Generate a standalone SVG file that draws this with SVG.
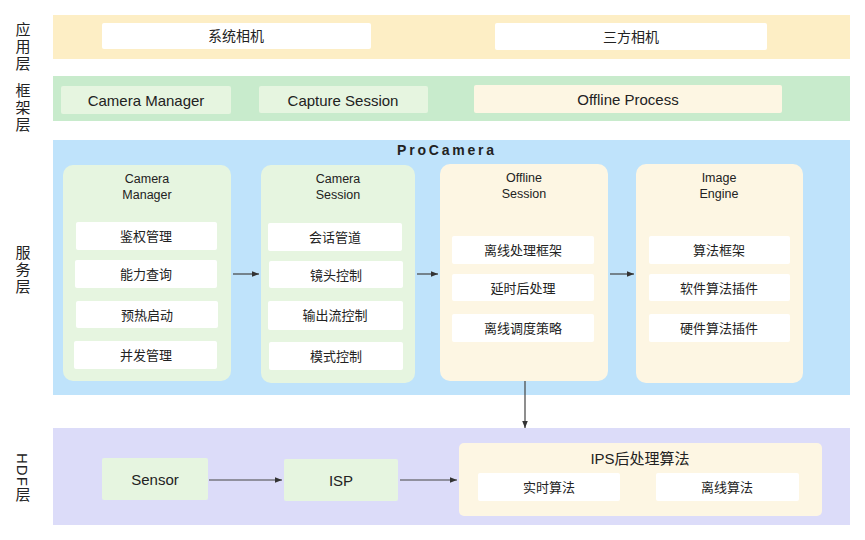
<svg xmlns="http://www.w3.org/2000/svg" width="865" height="540" viewBox="0 0 865 540">
<defs>
<marker id="ah" viewBox="0 0 10 10" refX="10" refY="5" markerWidth="7" markerHeight="7" orient="auto" markerUnits="userSpaceOnUse"><path d="M0,1 L10,5 L0,9 z" fill="#333"/></marker>
<style>
text{font-family:"Liberation Sans","Noto Sans CJK SC",Arial,sans-serif;fill:#222;text-anchor:middle;dominant-baseline:central}
.lbl{font-size:15px;writing-mode:vertical-rl;letter-spacing:2px}
.white{fill:#fff}
.green{fill:#e6f5e0}
.cream{fill:#fdf6e3}
.t14{font-size:14px}
.t15{font-size:15px}
.t12{font-size:12.5px}
.t13{font-size:13px}
.conn{stroke:#444;stroke-width:1.2;fill:none;marker-end:url(#ah)}
</style>
</defs>
<rect width="865" height="540" fill="#fff"/>
<!-- layer bands -->
<g id="app-layer">
<rect x="53" y="15" width="797" height="44" fill="#fdeec5"/>
<text class="lbl" x="22" y="22" style="text-anchor:start">应用层</text>
</g>
<g id="framework-layer">
<rect x="53" y="76" width="797" height="45" fill="#c8ebcc"/>
<text class="lbl" x="22" y="83" style="text-anchor:start">框架层</text>
</g>
<g id="service-layer">
<rect x="53" y="140" width="797" height="255" fill="#bfe3fb"/>
<text class="lbl" x="22" y="245" style="text-anchor:start">服务层</text>
<text x="447" y="150" style="font-size:14px;font-weight:bold;letter-spacing:2.8px">ProCamera</text>
</g>
<g id="hdf-layer">
<rect x="53" y="428" width="797" height="97" fill="#dcdcf9"/>
<text class="lbl" x="22" y="453" style="text-anchor:start;letter-spacing:1px">HDF层</text>
</g>

<!-- app nodes -->
<g id="sys-camera"><rect class="white" x="102" y="23" width="269" height="26" rx="2"/><text class="t14" x="236" y="36">系统相机</text></g>
<g id="third-camera"><rect class="white" x="495" y="23" width="272" height="27" rx="2"/><text class="t14" x="631" y="37">三方相机</text></g>

<!-- framework nodes -->
<g id="fw-camera-manager"><rect class="green" x="61" y="86" width="170" height="28" rx="2"/><text class="t15" x="146" y="100">Camera Manager</text></g>
<g id="fw-capture-session"><rect class="green" x="259" y="86" width="169" height="27" rx="2"/><text class="t15" x="343" y="100">Capture Session</text></g>
<g id="fw-offline-process"><rect class="cream" x="474" y="85" width="308" height="28" rx="2"/><text class="t15" x="628" y="99">Offline Process</text></g>

<!-- service containers -->
<g id="camera-manager">
<rect class="green" x="63" y="165" width="168" height="216" rx="10"/>
<text class="t12" x="147" y="179">Camera</text><text class="t12" x="147" y="195">Manager</text>
<rect class="white" x="76" y="222" width="141" height="28" rx="2"/><text class="t13" x="146" y="236">鉴权管理</text>
<rect class="white" x="75" y="260" width="142" height="28" rx="2"/><text class="t13" x="146" y="274">能力查询</text>
<rect class="white" x="76" y="301" width="142" height="27" rx="2"/><text class="t13" x="147" y="315">预热启动</text>
<rect class="white" x="74" y="341" width="143" height="28" rx="2"/><text class="t13" x="146" y="355">并发管理</text>
</g>
<g id="camera-session">
<rect class="green" x="261" y="165" width="154" height="218" rx="10"/>
<text class="t12" x="338" y="179">Camera</text><text class="t12" x="338" y="195">Session</text>
<rect class="white" x="268" y="223" width="134" height="28" rx="2"/><text class="t13" x="335" y="237">会话管道</text>
<rect class="white" x="269" y="261" width="134" height="27" rx="2"/><text class="t13" x="336" y="275">镜头控制</text>
<rect class="white" x="268" y="301" width="135" height="29" rx="2"/><text class="t13" x="335" y="315">输出流控制</text>
<rect class="white" x="269" y="342" width="134" height="28" rx="2"/><text class="t13" x="336" y="356">模式控制</text>
</g>
<g id="offline-session">
<rect class="cream" x="440" y="164" width="168" height="217" rx="10"/>
<text class="t12" x="524" y="178">Offline</text><text class="t12" x="524" y="194">Session</text>
<rect class="white" x="452" y="236" width="142" height="28" rx="2"/><text class="t13" x="523" y="250">离线处理框架</text>
<rect class="white" x="452" y="274" width="142" height="27" rx="2"/><text class="t13" x="523" y="288">延时后处理</text>
<rect class="white" x="452" y="314" width="142" height="28" rx="2"/><text class="t13" x="523" y="328">离线调度策略</text>
</g>
<g id="image-engine">
<rect class="cream" x="636" y="164" width="167" height="219" rx="10"/>
<text class="t12" x="719" y="178">Image</text><text class="t12" x="719" y="194">Engine</text>
<rect class="white" x="649" y="236" width="141" height="28" rx="2"/><text class="t13" x="719" y="250">算法框架</text>
<rect class="white" x="649" y="274" width="141" height="27" rx="2"/><text class="t13" x="719" y="288">软件算法插件</text>
<rect class="white" x="649" y="314" width="141" height="28" rx="2"/><text class="t13" x="719" y="328">硬件算法插件</text>
</g>

<!-- HDF nodes -->
<g id="sensor"><rect class="green" x="102" y="458" width="106" height="42" rx="2"/><text class="t15" x="155" y="479">Sensor</text></g>
<g id="isp"><rect class="green" x="284" y="459" width="114" height="42" rx="2"/><text class="t15" x="341" y="480">ISP</text></g>
<g id="ips">
<rect class="cream" x="459" y="443" width="363" height="73" rx="5"/>
<text class="t15" x="640" y="458">IPS后处理算法</text>
<rect class="white" x="478" y="473" width="142" height="28" rx="2"/><text class="t13" x="549" y="487">实时算法</text>
<rect class="white" x="656" y="473" width="143" height="28" rx="2"/><text class="t13" x="727" y="487">离线算法</text>
</g>

<!-- connectors -->
<g id="connectors">
<line class="conn" x1="233" y1="274" x2="259" y2="274"/>
<line class="conn" x1="417" y1="274" x2="438" y2="274"/>
<line class="conn" x1="610" y1="274" x2="634" y2="274"/>
<line class="conn" x1="525" y1="381" x2="525" y2="428"/>
<line class="conn" x1="209" y1="480" x2="282" y2="480"/>
<line class="conn" x1="400" y1="480" x2="457" y2="480"/>
</g>
</svg>
